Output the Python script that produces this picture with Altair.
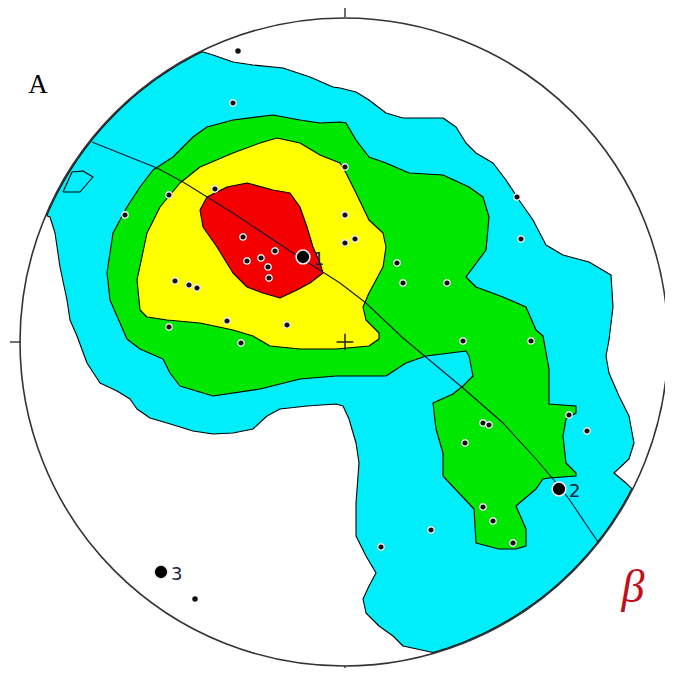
import altair as alt
import numpy as np
import pandas as pd

# Net coordinates: origin at the centre of the primitive circle, radius ~324 units,
# x to the east, y to the north.
R_NET = 324

# ---- contour outlines ----
cyan_top = [(-131, 287), (-111, 280), (-91, 277), (-61, 274), (-34, 265), (-11, 255), (-4, 254),
            (12, 250), (25, 242), (42, 229), (59, 224), (99, 224), (112, 215), (122, 199),
            (132, 189), (149, 179), (162, 162), (175, 142), (189, 122), (202, 97), (219, 87),
            (245, 80), (267, 67), (269, 35), (265, 2), (262, -14), (265, -31), (275, -54),
            (285, -74), (290, -101), (285, -117), (270, -131), (282, -141)]
cyan_bottom = [(59, -304), (49, -294), (35, -284), (22, -271), (19, -257), (25, -244), (32, -231),
               (22, -214), (12, -194), (12, -161), (15, -121), (12, -101), (5, -77), (-1, -64),
               (-8, -62), (-37, -64), (-64, -67), (-77, -74), (-91, -87), (-111, -91),
               (-131, -92), (-151, -89), (-177, -81), (-194, -76), (-207, -67), (-214, -57),
               (-227, -49), (-244, -41), (-257, -21), (-267, 6), (-274, 22), (-277, 42),
               (-284, 75), (-289, 109), (-294, 125)]
# where the cyan contour runs along the primitive (degrees)
cyan_arc1 = (157, 116)
cyan_arc2 = (-27, -74)

green = [(-237, 69), (-231, 109), (-217, 135), (-204, 155), (-191, 172), (-171, 185), (-151, 205),
         (-137, 215), (-111, 222), (-71, 227), (-44, 222), (-24, 219), (-4, 220), (2, 219),
         (12, 202), (25, 185), (42, 179), (65, 169), (99, 167), (125, 155), (139, 145),
         (145, 125), (142, 92), (122, 65), (132, 55), (159, 45), (182, 35), (192, 12), (199, 6),
         (205, -27), (205, -62), (232, -64), (232, -71), (222, -77), (219, -94), (222, -121),
         (232, -131), (232, -134), (205, -136), (199, -137), (192, -147), (172, -164),
         (182, -187), (182, -204), (172, -207), (155, -207), (132, -201), (130, -167),
         (99, -134), (99, -111), (92, -87), (89, -61), (109, -52), (119, -44), (129, -34),
         (125, -14), (122, -9), (82, -14), (62, -21), (42, -34), (-8, -34), (-44, -37),
         (-84, -47), (-131, -54), (-164, -44), (-174, -31), (-181, -17), (-204, -7),
         (-217, 3), (-234, 42)]

yellow = [(-204, 32), (-207, 62), (-197, 109), (-184, 135), (-164, 159), (-144, 175), (-111, 189),
          (-84, 199), (-67, 204), (-44, 199), (-24, 187), (-4, 179), (2, 169), (12, 149),
          (25, 122), (39, 109), (42, 95), (39, 75), (25, 49), (19, 35), (22, 22), (35, 9),
          (35, 3), (25, -4), (-8, -7), (-44, -7), (-74, -4), (-91, 6), (-111, 12), (-144, 19),
          (-177, 22), (-197, 25)]

red = [(-144, 132), (-137, 145), (-117, 155), (-97, 159), (-71, 152), (-54, 149), (-44, 135),
       (-37, 115), (-31, 95), (-24, 79), (-21, 69), (-34, 59), (-47, 52), (-64, 44), (-81, 49),
       (-97, 55), (-111, 69), (-127, 95), (-141, 115)]

small_outline = [(-281, 150), (-272, 170), (-261, 171), (-251, 165), (-264, 150)]

# great circle (beta girdle)
girdle = [(-252, 200), (-187, 174), (-161, 160), (-111, 129), (-51, 89), (-4, 59), (22, 39),
          (59, 4), (119, -46), (159, -81), (192, -117), (209, -137), (225, -157), (254, -200)]

# poles (with white rim) inside the contoured area
poles_x = [-111, -219, -175, -129, -101, -69, -97, -83, -76, -75, -169, -155, -147, -117, -57,
           -175, 1, 1, 11, 1, 53, 59, 103, 173, 177, -103, 119, 187, 225, 243, 139, 145, 121,
           139, 149, 169, 87, 37]
poles_y = [239, 127, 147, 153, 105, 91, 81, 84, 75, 64, 61, 57, 54, 21, 17, 15, 175, 127, 103,
           99, 79, 59, 59, 145, 103, -1, 1, 1, -73, -89, -81, -83, -101, -165, -179, -201, -188,
           -205]
# poles outside contours
bare_x = [-106, -149]
bare_y = [291, -257]

# numbered axes
axis_x = [-41, 215, -183]
axis_y = [85, -147, -230]
axis_lab = ["1", "2", "3"]

# N / W / S ticks
tick_x = [1, -334, 1]
tick_y = [334, 0, -324]
tick_x2 = [1, -323, 1]
tick_y2 = [325, 0, -334]


def poly_df(pts):
    pts = list(pts) + [pts[0]]
    return pd.DataFrame({"x": [p[0] for p in pts], "y": [p[1] for p in pts],
                         "o": list(range(len(pts)))})


def arc(a0, a1, r=323, n=40):
    t = np.radians(np.linspace(a0, a1, n))
    return [(r * np.cos(a), r * np.sin(a)) for a in t]


cyan = arc(*cyan_arc1) + cyan_top + arc(*cyan_arc2) + cyan_bottom

xs = alt.Scale(domain=[-336, 321], nice=False, zero=False)
ys = alt.Scale(domain=[-326, 334], nice=False, zero=False)
X = alt.X("x:Q", scale=xs, axis=None)
Y = alt.Y("y:Q", scale=ys, axis=None)


def poly_layer(pts, fill, sw=1.1):
    return alt.Chart(poly_df(pts)).mark_line(
        fill=fill, stroke="black", strokeWidth=sw, strokeJoin="round"
    ).encode(x=X, y=Y, order="o:Q")


layers = [
    poly_layer(cyan, "#00EEFA"),
    poly_layer(small_outline, "#00EEFA"),
    poly_layer(green, "#00E800"),
    poly_layer(yellow, "#FFFF00"),
    poly_layer(red, "#F50000"),
]

gdf = pd.DataFrame({"x": [p[0] for p in girdle], "y": [p[1] for p in girdle],
                    "o": list(range(len(girdle)))})
layers.append(alt.Chart(gdf).mark_line(stroke="#1a1a33", strokeWidth=1.1).encode(
    x=X, y=Y, order="o:Q"))

# primitive circle
layers.append(alt.Chart(pd.DataFrame({"x": [0], "y": [0]})).mark_point(
    shape="circle", size=(2 * R_NET) ** 2, filled=False, stroke="#333333", strokeWidth=1.6,
    opacity=1).encode(x=X, y=Y))

# ticks
tdf = pd.DataFrame({"x": tick_x, "y": tick_y, "x2": tick_x2, "y2": tick_y2})
layers.append(alt.Chart(tdf).mark_rule(stroke="#333333", strokeWidth=1.4).encode(
    x=X, y=Y, x2="x2:Q", y2="y2:Q"))

# centre cross
layers.append(alt.Chart(pd.DataFrame({"x": [1], "y": [0]})).mark_point(
    shape="M-1,0L1,0M0,-1L0,1", size=280, filled=False, stroke="#222222", strokeWidth=1.5,
    opacity=1).encode(x=X, y=Y))

# poles
layers.append(alt.Chart(pd.DataFrame({"x": poles_x, "y": poles_y})).mark_point(
    shape="circle", size=42, filled=True, fill="#111111", stroke="#f4eef2", strokeWidth=1.3,
    opacity=1).encode(x=X, y=Y))
layers.append(alt.Chart(pd.DataFrame({"x": bare_x, "y": bare_y})).mark_point(
    shape="circle", size=30, filled=True, fill="#111111", strokeWidth=0, opacity=1).encode(
    x=X, y=Y))

adf = pd.DataFrame({"x": axis_x, "y": axis_y, "t": axis_lab})
layers.append(alt.Chart(adf).mark_point(
    shape="circle", size=190, filled=True, fill="#000000", stroke="#f4eef2", strokeWidth=1.5,
    opacity=1).encode(x=X, y=Y))
layers.append(alt.Chart(adf).mark_text(
    align="left", baseline="middle", dx=10, dy=3, font="DejaVu Sans", fontSize=18,
    color="#1c2340").encode(x=X, y=Y, text="t:N"))

# panel letter and beta
layers.append(alt.Chart(pd.DataFrame({"x": [-306], "y": [257], "t": ["A"]})).mark_text(
    font="Liberation Serif", fontSize=27, color="#000000", align="center",
    baseline="middle").encode(x=X, y=Y, text="t:N"))
layers.append(alt.Chart(pd.DataFrame({"x": [289], "y": [-246], "t": ["β"]})).mark_text(
    font="Liberation Serif", fontSize=46, fontStyle="italic", color="#C0101A",
    align="center", baseline="middle").encode(x=X, y=Y, text="t:N"))

chart = alt.layer(*layers).properties(
    width=657, height=660, padding=0, autosize="none", background="white"
).configure_view(stroke=None)

chart.save("out.html", embed_options={"renderer": "svg", "actions": False})
